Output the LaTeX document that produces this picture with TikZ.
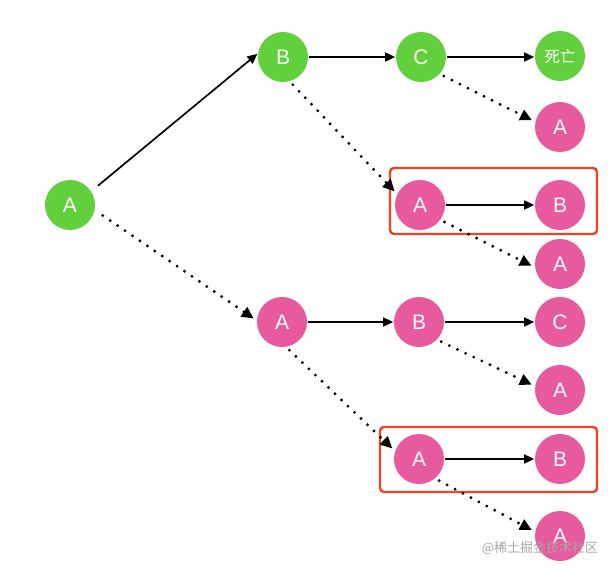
\documentclass[tikz,border=0pt]{standalone}
\usepackage{fontspec}
\setmainfont{Liberation Sans}
\newfontfamily\cjk{Noto Sans CJK SC}
\usetikzlibrary{arrows.meta}
\definecolor{livegreen}{RGB}{98,208,60}
\definecolor{clonepink}{RGB}{232,90,158}
\definecolor{loopred}{RGB}{242,66,36}

\begin{document}
\begin{tikzpicture}[x=1pt, y=-1pt, line width=1.7pt, >={Triangle[length=10pt,width=9pt]},
        main/.style = {circle, minimum size=50pt, inner sep=0pt, text=white, font=\fontsize{21}{21}\selectfont},
        alive/.style = {main, fill=livegreen},
        clone/.style = {main, fill=clonepink},
        spawn/.style = {-{Triangle[length=12pt,width=11pt]}, line width=3.2pt, line cap=round, dash pattern=on 0pt off 9pt, shorten <=4pt, shorten >=3pt},
        loopbox/.style = {draw=loopred, line width=2.4pt, rounded corners=4pt}]
        \useasboundingbox (0,0) rectangle (612,572);
        \node[alive] at (70,205) (1) {A};
        \node[alive] at (283,57) (2) {B};
        \node[alive] at (421,57) (3) {C};
        \node[alive, font=\cjk\fontsize{15.5}{15.5}\selectfont] at (560,56) (4) {死亡};
        \node[clone] at (560,127) (5) {A};
        \node[clone] at (420,205) (6) {A};
        \node[clone] at (560,205) (7) {B};
        \node[clone] at (560,264) (8) {A};
        \node[clone] at (282,322) (9) {A};
        \node[clone] at (419,322) (10) {B};
        \node[clone] at (560,322) (11) {C};
        \node[clone] at (560,390) (12) {A};
        \node[clone] at (419,459) (13) {A};
        \node[clone] at (560,459) (14) {B};
        \node[clone] at (560,536) (15) {A};
        \node[text=gray!70, font=\cjk\fontsize{13}{13}\selectfont] at (540,548) (16) {@稀土掘金技术社区};
        \draw [loopbox] (390,168) rectangle (597,234);
        \draw [loopbox] (380,427) rectangle (597,492);
        \draw [->, shorten <=8pt] (1.33) to (2.173);
        \draw [->] (2) to (3);
        \draw [->] (3) to (3 -| 4.west);
        \draw [->] (6) to (7);
        \draw [->] (9) to (10);
        \draw [->] (10) to (11);
        \draw [->] (13) to (14);
        \draw [spawn, shorten <=9pt] (1.-12) to (9.176);
        \draw [spawn] (3.-42) to (5.168);
        \draw [spawn] (2.-74) to (6.154);
        \draw [spawn] (6.-36) to (8.187);
        \draw [spawn] (10.-44) to (12.171);
        \draw [spawn] (9.-80) to (13.161);
        \draw [spawn] (13.-50) to (15.170);
    \end{tikzpicture}
\end{document}
